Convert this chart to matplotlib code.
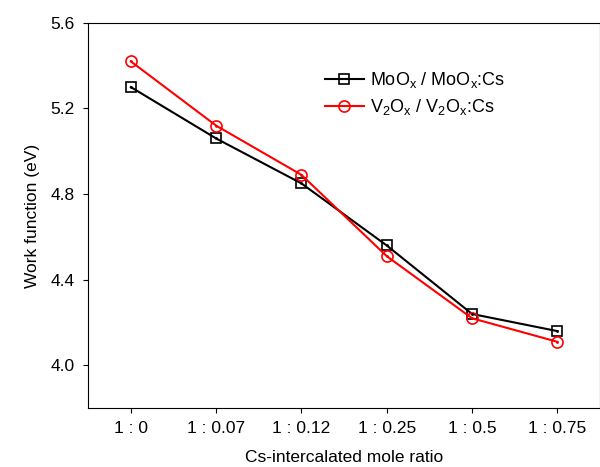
import matplotlib
matplotlib.use("Agg")
import matplotlib.pyplot as plt

# data
ratios = ["1 : 0", "1 : 0.07", "1 : 0.12", "1 : 0.25", "1 : 0.5", "1 : 0.75"]
moox_wf = [5.30, 5.06, 4.85, 4.56, 4.24, 4.16]
v2ox_wf = [5.42, 5.12, 4.89, 4.51, 4.22, 4.11]

plt.rcParams["font.family"] = ["Liberation Sans", "DejaVu Sans"]

fig = plt.figure(figsize=(6, 4.67), dpi=100)
ax = fig.add_axes([0.147, 0.126, 0.853, 0.825])

x = range(len(ratios))
ax.plot(x, moox_wf, color="black", marker="s", markersize=7, markerfacecolor="none",
        markeredgewidth=1.2, linewidth=1.5, label=r"MoO$_\mathregular{x}$ / MoO$_\mathregular{x}$:Cs")
ax.plot(x, v2ox_wf, color="red", marker="o", markersize=8, markerfacecolor="none",
        markeredgewidth=1.2, linewidth=1.5, label=r"V$_\mathregular{2}$O$_\mathregular{x}$ / V$_\mathregular{2}$O$_\mathregular{x}$:Cs")
# center dots inside markers
ax.plot(x, moox_wf, linestyle="none", marker=".", markersize=2, color="black")
ax.plot(x, v2ox_wf, linestyle="none", marker=".", markersize=2, color="red")

ax.set_xlim(-0.5, 5.5)
ax.set_ylim(3.8, 5.6)
ax.set_yticks([4.0, 4.4, 4.8, 5.2, 5.6])
ax.set_xticks(list(x))
ax.set_xticklabels(ratios)
ax.tick_params(labelsize=12.5, pad=6)
ax.set_xlabel("Cs-intercalated mole ratio", fontsize=12.5, labelpad=10)
ax.set_ylabel("Work function (eV)", fontsize=12.5, labelpad=8)
ax.legend(loc="upper left", bbox_to_anchor=(0.43, 0.92), frameon=False, fontsize=13,
          handlelength=2.2, handletextpad=0.3, labelspacing=0.4)

fig.savefig("out.png", dpi=100)
